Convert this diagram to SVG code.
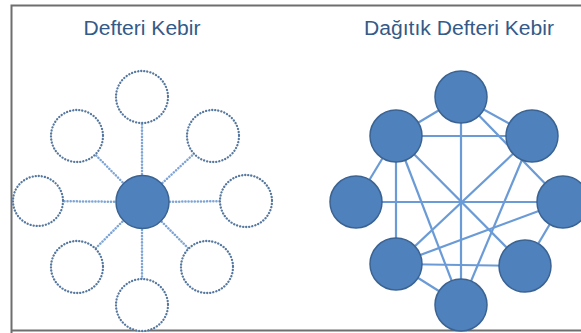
<svg xmlns="http://www.w3.org/2000/svg" width="581" height="333" viewBox="0 0 581 333">
<style>
.title{font-family:"Liberation Sans","Open Sans",sans-serif;font-size:20px;fill:#335a88;text-anchor:middle}
.dotc{fill:#ffffff;stroke:#56789f;stroke-width:2.3;stroke-dasharray:0.1 3;stroke-linecap:round}
.dotl{stroke:#7ea5d6;stroke-width:2.5;stroke-dasharray:0.1 3;stroke-linecap:round}
.node{fill:#4f81bd;stroke:#3b6392;stroke-width:1.5}
.edge{stroke:#6b9bd6;stroke-width:2.2}
</style>
<rect width="581" height="333" fill="#ffffff"/>
<path d="M11.5 333 V5.5 H581" fill="none" stroke="#6e6e6e" stroke-width="2"/>
<path d="M11.5 330.5 H581" fill="none" stroke="#6e6e6e" stroke-width="2"/>
<text class="title" x="142" y="35" textLength="117" lengthAdjust="spacingAndGlyphs">Defteri Kebir</text>
<text class="title" x="459" y="35" textLength="190" lengthAdjust="spacingAndGlyphs">Dağıtık Defteri Kebir</text>
<g id="connectors-left">
<line class="dotl" x1="142" y1="202" x2="142" y2="97"/>
<line class="dotl" x1="142" y1="202" x2="77" y2="136"/>
<line class="dotl" x1="142" y1="202" x2="213" y2="136"/>
<line class="dotl" x1="142" y1="202" x2="38" y2="201"/>
<line class="dotl" x1="142" y1="202" x2="246" y2="201"/>
<line class="dotl" x1="142" y1="202" x2="77" y2="267"/>
<line class="dotl" x1="142" y1="202" x2="207" y2="267"/>
<line class="dotl" x1="142" y1="202" x2="142" y2="305"/>
</g>
<g id="l-top"><circle class="dotc" cx="142" cy="97" r="26"/></g>
<g id="l-tl"><circle class="dotc" cx="77" cy="136" r="26"/></g>
<g id="l-tr"><circle class="dotc" cx="213" cy="136" r="26"/></g>
<g id="l-left"><circle class="dotc" cx="38" cy="201" r="25"/></g>
<g id="l-right"><circle class="dotc" cx="246" cy="201" r="26"/></g>
<g id="l-bl"><circle class="dotc" cx="77" cy="267" r="26"/></g>
<g id="l-br"><circle class="dotc" cx="207" cy="267" r="26"/></g>
<g id="l-bottom"><circle class="dotc" cx="142" cy="305" r="26"/></g>
<g id="l-center"><circle class="node" cx="142.5" cy="202" r="26.5"/></g>
<g id="connectors-right">
<line class="edge" x1="461" y1="97" x2="396" y2="136"/>
<line class="edge" x1="461" y1="97" x2="532" y2="136"/>
<line class="edge" x1="461" y1="97" x2="461" y2="305"/>
<line class="edge" x1="461" y1="97" x2="563" y2="202"/>
<line class="edge" x1="396" y1="136" x2="532" y2="136"/>
<line class="edge" x1="396" y1="136" x2="356" y2="202"/>
<line class="edge" x1="396" y1="136" x2="396" y2="264"/>
<line class="edge" x1="396" y1="136" x2="461" y2="305"/>
<line class="edge" x1="396" y1="136" x2="525" y2="266"/>
<line class="edge" x1="532" y1="136" x2="396" y2="264"/>
<line class="edge" x1="532" y1="136" x2="461" y2="305"/>
<line class="edge" x1="356" y1="202" x2="563" y2="202"/>
<line class="edge" x1="563" y1="202" x2="396" y2="264"/>
<line class="edge" x1="563" y1="202" x2="525" y2="266"/>
<line class="edge" x1="396" y1="264" x2="525" y2="266"/>
<line class="edge" x1="396" y1="264" x2="461" y2="305"/>
</g>
<g id="r-top"><circle class="node" cx="461" cy="97" r="26"/></g>
<g id="r-ul"><circle class="node" cx="396" cy="136" r="26"/></g>
<g id="r-ur"><circle class="node" cx="532" cy="136" r="26"/></g>
<g id="r-left"><circle class="node" cx="356" cy="202" r="26"/></g>
<g id="r-right"><circle class="node" cx="563" cy="202" r="26"/></g>
<g id="r-ll"><circle class="node" cx="396" cy="264" r="26"/></g>
<g id="r-lr"><circle class="node" cx="525" cy="266" r="26"/></g>
<g id="r-bottom"><circle class="node" cx="461" cy="305" r="26"/></g>
</svg>
